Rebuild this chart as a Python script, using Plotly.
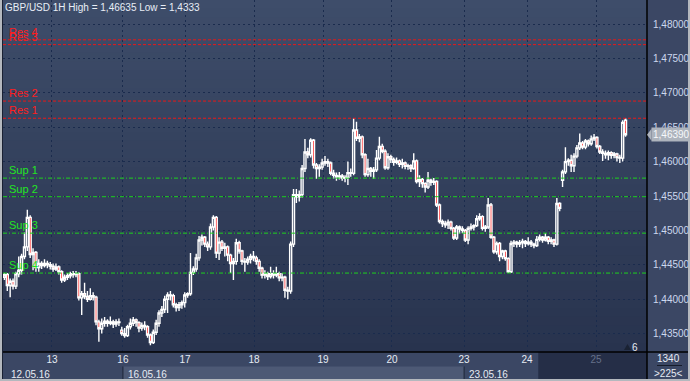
import plotly.graph_objects as go

# ---------------- data (GBP/USD, 1H bars) ----------------
open_ = [
    1.4432, 1.4436, 1.4420, 1.4426, 1.4419, 1.4437, 1.4442, 1.4462, 1.4476, 1.4519,
    1.4465, 1.4468, 1.4446, 1.4452, 1.4449, 1.4452, 1.4450, 1.4448, 1.4444, 1.4447,
    1.4440, 1.4428, 1.4432, 1.4434, 1.4437, 1.4436, 1.4437, 1.4402, 1.4408, 1.4404,
    1.4400, 1.4405, 1.4403, 1.4367, 1.4357, 1.4365, 1.4368, 1.4365, 1.4367, 1.4364,
    1.4367, 1.4355, 1.4350, 1.4347, 1.4360, 1.4365, 1.4370, 1.4366, 1.4358, 1.4362,
    1.4360, 1.4348, 1.4337, 1.4352, 1.4365, 1.4380, 1.4385, 1.4400, 1.4406, 1.4405,
    1.4392, 1.4388, 1.4392, 1.4395, 1.4406, 1.4408, 1.4439, 1.4444, 1.4460, 1.4486,
    1.4490, 1.4480, 1.4476, 1.4505, 1.4519, 1.4467, 1.4483, 1.4474, 1.4476, 1.4464,
    1.4452, 1.4455, 1.4482, 1.4470, 1.4455, 1.4454, 1.4458, 1.4462, 1.4460, 1.4455,
    1.4445, 1.4435, 1.4437, 1.4433, 1.4437, 1.4435, 1.4437, 1.4431, 1.4432, 1.4413,
    1.4412, 1.4480, 1.4552, 1.4549, 1.4552, 1.4590, 1.4614, 1.4610, 1.4631, 1.4595,
    1.4590, 1.4592, 1.4598, 1.4600, 1.4598, 1.4583, 1.4580, 1.4578, 1.4579, 1.4576,
    1.4577, 1.4584, 1.4583, 1.4646, 1.4634, 1.4636, 1.4610, 1.4581, 1.4590, 1.4586,
    1.4588, 1.4605, 1.4622, 1.4615, 1.4591, 1.4607, 1.4603, 1.4599, 1.4601, 1.4596,
    1.4598, 1.4593, 1.4594, 1.4590, 1.4601, 1.4571, 1.4574, 1.4568, 1.4563, 1.4573,
    1.4570, 1.4571, 1.4537, 1.4513, 1.4510, 1.4508, 1.4512, 1.4503, 1.4489, 1.4505,
    1.4502, 1.4500, 1.4486, 1.4503, 1.4505, 1.4507, 1.4517, 1.4520, 1.4503, 1.4505,
    1.4537, 1.4490, 1.4469, 1.4481, 1.4462, 1.4470, 1.4459, 1.4440, 1.4481, 1.4483,
    1.4480, 1.4482, 1.4484, 1.4481, 1.4483, 1.4480, 1.4478, 1.4487, 1.4490, 1.4486,
    1.4490, 1.4484, 1.4486, 1.4480, 1.4539, 1.4573, 1.4585, 1.4600, 1.4602, 1.4594,
    1.4608, 1.4620, 1.4627, 1.4621, 1.4630, 1.4626, 1.4633, 1.4635, 1.4622, 1.4614,
    1.4612, 1.4610, 1.4613, 1.4609, 1.4611, 1.4606, 1.4605, 1.4660,
]
high_ = [
    1.4438, 1.4438, 1.4430, 1.4430, 1.4440, 1.4462, 1.4466, 1.4497, 1.4530, 1.4522,
    1.4474, 1.4470, 1.4458, 1.4455, 1.4458, 1.4456, 1.4454, 1.4452, 1.4452, 1.4449,
    1.4442, 1.4436, 1.4438, 1.4440, 1.4441, 1.4441, 1.4439, 1.4412, 1.4424, 1.4412,
    1.4416, 1.4410, 1.4405, 1.4370, 1.4372, 1.4374, 1.4371, 1.4375, 1.4370, 1.4371,
    1.4372, 1.4360, 1.4358, 1.4363, 1.4372, 1.4374, 1.4372, 1.4368, 1.4366, 1.4368,
    1.4362, 1.4350, 1.4356, 1.4370, 1.4384, 1.4390, 1.4405, 1.4410, 1.4412, 1.4408,
    1.4395, 1.4396, 1.4398, 1.4410, 1.4410, 1.4467, 1.4448, 1.4466, 1.4492, 1.4494,
    1.4492, 1.4484, 1.4510, 1.4522, 1.4521, 1.4490, 1.4486, 1.4482, 1.4478, 1.4466,
    1.4460, 1.4488, 1.4485, 1.4472, 1.4460, 1.4462, 1.4466, 1.4470, 1.4463, 1.4458,
    1.4447, 1.4442, 1.4440, 1.4447, 1.4442, 1.4447, 1.4440, 1.4438, 1.4434, 1.4418,
    1.4484, 1.4560, 1.4560, 1.4558, 1.4595, 1.4633, 1.4620, 1.4634, 1.4633, 1.4598,
    1.4596, 1.4604, 1.4608, 1.4604, 1.4600, 1.4588, 1.4584, 1.4585, 1.4582, 1.4580,
    1.4600, 1.4590, 1.4663, 1.4658, 1.4640, 1.4638, 1.4612, 1.4604, 1.4592, 1.4592,
    1.4617, 1.4636, 1.4626, 1.4618, 1.4612, 1.4610, 1.4606, 1.4606, 1.4603, 1.4604,
    1.4600, 1.4597, 1.4596, 1.4612, 1.4603, 1.4580, 1.4576, 1.4570, 1.4585, 1.4575,
    1.4576, 1.4573, 1.4539, 1.4516, 1.4514, 1.4516, 1.4514, 1.4505, 1.4508, 1.4507,
    1.4506, 1.4502, 1.4506, 1.4510, 1.4509, 1.4522, 1.4525, 1.4522, 1.4508, 1.4547,
    1.4540, 1.4492, 1.4484, 1.4483, 1.4472, 1.4472, 1.4461, 1.4485, 1.4486, 1.4485,
    1.4486, 1.4488, 1.4486, 1.4490, 1.4486, 1.4482, 1.4492, 1.4494, 1.4492, 1.4496,
    1.4492, 1.4490, 1.4488, 1.4547, 1.4541, 1.4588, 1.4621, 1.4605, 1.4610, 1.4612,
    1.4624, 1.4641, 1.4630, 1.4633, 1.4632, 1.4638, 1.4640, 1.4637, 1.4624, 1.4618,
    1.4616, 1.4616, 1.4615, 1.4614, 1.4613, 1.4610, 1.4660, 1.46635,
]
low_ = [
    1.4428, 1.4412, 1.4403, 1.4414, 1.4415, 1.4432, 1.4436, 1.4458, 1.4470, 1.4460,
    1.4442, 1.4440, 1.4440, 1.4444, 1.4446, 1.4445, 1.4443, 1.4440, 1.4441, 1.4436,
    1.4424, 1.4425, 1.4428, 1.4430, 1.4431, 1.4432, 1.4398, 1.4377, 1.4400, 1.4396,
    1.4398, 1.4398, 1.4362, 1.4338, 1.4350, 1.4360, 1.4360, 1.4362, 1.4358, 1.4360,
    1.4361, 1.4347, 1.4344, 1.4345, 1.4356, 1.4361, 1.4360, 1.4352, 1.4354, 1.4355,
    1.4344, 1.4333, 1.4335, 1.4348, 1.4360, 1.4374, 1.4380, 1.4380, 1.4398, 1.4388,
    1.4382, 1.4383, 1.4386, 1.4388, 1.4402, 1.4405, 1.4435, 1.4440, 1.4456, 1.4478,
    1.4476, 1.4470, 1.4472, 1.4500, 1.4460, 1.4457, 1.4470, 1.4462, 1.4455, 1.4438,
    1.4428, 1.4450, 1.4466, 1.4450, 1.4440, 1.4450, 1.4452, 1.4455, 1.4450, 1.4440,
    1.4430, 1.4430, 1.4428, 1.4430, 1.4430, 1.4432, 1.4426, 1.4426, 1.4402, 1.4400,
    1.4408, 1.4476, 1.4540, 1.4542, 1.4548, 1.4585, 1.4605, 1.4606, 1.4590, 1.4575,
    1.4578, 1.4588, 1.4594, 1.4592, 1.4580, 1.4575, 1.4572, 1.4574, 1.4572, 1.4570,
    1.4566, 1.4578, 1.4580, 1.4630, 1.4628, 1.4605, 1.4578, 1.4578, 1.4578, 1.4575,
    1.4585, 1.4602, 1.4612, 1.4588, 1.4588, 1.4598, 1.4594, 1.4596, 1.4592, 1.4590,
    1.4589, 1.4588, 1.4585, 1.4588, 1.4568, 1.4563, 1.4562, 1.4555, 1.4560, 1.4565,
    1.4566, 1.4534, 1.4510, 1.4505, 1.4504, 1.4502, 1.4500, 1.4486, 1.4486, 1.4495,
    1.4496, 1.4483, 1.4480, 1.4500, 1.4500, 1.4505, 1.4514, 1.4500, 1.4498, 1.4502,
    1.4488, 1.4466, 1.4465, 1.4455, 1.4458, 1.4456, 1.4438, 1.4438, 1.4476, 1.4475,
    1.4476, 1.4474, 1.4476, 1.4478, 1.4476, 1.4474, 1.4476, 1.4484, 1.4482, 1.4484,
    1.4480, 1.4480, 1.4476, 1.4478, 1.4528, 1.4563, 1.4582, 1.4594, 1.4585, 1.4585,
    1.4605, 1.4617, 1.4618, 1.4618, 1.4622, 1.4623, 1.4630, 1.4619, 1.4611, 1.4601,
    1.4604, 1.4602, 1.4604, 1.4605, 1.4600, 1.4598, 1.4600, 1.4636,
]
close_ = [
    1.4436, 1.4420, 1.4426, 1.4419, 1.4437, 1.4442, 1.4462, 1.4476, 1.4519, 1.4465,
    1.4468, 1.4446, 1.4452, 1.4449, 1.4452, 1.4450, 1.4448, 1.4444, 1.4447, 1.4440,
    1.4428, 1.4432, 1.4434, 1.4437, 1.4436, 1.4437, 1.4402, 1.4408, 1.4404, 1.4400,
    1.4405, 1.4403, 1.4367, 1.4357, 1.4365, 1.4368, 1.4365, 1.4367, 1.4364, 1.4367,
    1.4366, 1.4350, 1.4347, 1.4360, 1.4365, 1.4370, 1.4366, 1.4358, 1.4362, 1.4360,
    1.4348, 1.4337, 1.4352, 1.4365, 1.4380, 1.4385, 1.4400, 1.4406, 1.4405, 1.4392,
    1.4388, 1.4392, 1.4395, 1.4406, 1.4408, 1.4439, 1.4444, 1.4460, 1.4486, 1.4490,
    1.4480, 1.4476, 1.4505, 1.4519, 1.4467, 1.4483, 1.4474, 1.4476, 1.4464, 1.4452,
    1.4455, 1.4482, 1.4470, 1.4455, 1.4454, 1.4458, 1.4462, 1.4460, 1.4455, 1.4445,
    1.4435, 1.4437, 1.4433, 1.4437, 1.4435, 1.4437, 1.4431, 1.4432, 1.4413, 1.4412,
    1.4480, 1.4552, 1.4549, 1.4552, 1.4590, 1.4614, 1.4610, 1.4631, 1.4595, 1.4590,
    1.4592, 1.4598, 1.4600, 1.4598, 1.4583, 1.4580, 1.4578, 1.4579, 1.4576, 1.4577,
    1.4584, 1.4583, 1.4646, 1.4634, 1.4636, 1.4610, 1.4581, 1.4590, 1.4586, 1.4588,
    1.4605, 1.4622, 1.4615, 1.4591, 1.4607, 1.4603, 1.4599, 1.4601, 1.4596, 1.4598,
    1.4593, 1.4594, 1.4590, 1.4601, 1.4571, 1.4574, 1.4568, 1.4563, 1.4573, 1.4570,
    1.4571, 1.4537, 1.4513, 1.4510, 1.4508, 1.4512, 1.4503, 1.4489, 1.4505, 1.4502,
    1.4500, 1.4486, 1.4503, 1.4505, 1.4507, 1.4517, 1.4520, 1.4503, 1.4505, 1.4537,
    1.4490, 1.4469, 1.4481, 1.4462, 1.4470, 1.4459, 1.4440, 1.4481, 1.4483, 1.4480,
    1.4482, 1.4484, 1.4481, 1.4483, 1.4480, 1.4478, 1.4487, 1.4490, 1.4486, 1.4490,
    1.4484, 1.4486, 1.4480, 1.4539, 1.4532, 1.4585, 1.4600, 1.4602, 1.4594, 1.4608,
    1.4620, 1.4627, 1.4621, 1.4630, 1.4626, 1.4633, 1.4635, 1.4622, 1.4614, 1.4612,
    1.4610, 1.4613, 1.4609, 1.4611, 1.4606, 1.4605, 1.4657, 1.4639,
]
bar_index = list(range(len(close_)))

day_ticks = [16.6, 41.4, 63.1, 87.2, 111.3, 135.4, 160.6, 182.6, 206.7]
day_labels = ["13", "16", "17", "18", "19", "20", "23", "24", "25"]
week_label_pos = [0.5, 41.4, 160.6]
week_labels = ["12.05.16", "16.05.16", "23.05.16"]
week_band = [41.4, 160.6]
session_start = 186.5

price_ticks = [1.435, 1.440, 1.445, 1.450, 1.455, 1.460, 1.465, 1.470, 1.475, 1.480]

pivot_names = ["Res 4", "Res 3", "Res 2", "Res 1", "Sup 1", "Sup 2", "Sup 3", "Sup 4"]
pivot_levels = [1.4777, 1.4770, 1.4688, 1.4663, 1.4576, 1.4549, 1.4496, 1.4438]

bars_visible = 225
counter_top = "1340"
counter_bottom = ">225<"
bars_marker = "6"
symbol_title = "GBP/USD 1H"

# ---------------- layout geometry ----------------
W, H = 690, 381
ML, MR, MT, MB = 3, 43, 0, 29
PW, PH = W - ML - MR, H - MT - MB
Y_MIN, Y_MAX = 1.432326, 1.483488

def px(p):  # pixel x -> paper x
    return (p - ML) / PW

def py(p):  # pixel y -> paper y
    return (MT + PH - p) / PH

def fmt(v, nd=5):
    s = f"{v:.{nd}f}".rstrip("0")
    return s.replace(".", ",")

FONT = "Liberation Sans, Arial, sans-serif"

fig = go.Figure()
fig.add_trace(go.Candlestick(
    x=bar_index, open=open_, high=high_, low=low_, close=close_,
    increasing=dict(line=dict(color="#ffffff", width=1.4), fillcolor="rgba(0,0,0,0)"),
    decreasing=dict(line=dict(color="#ffffff", width=1.4), fillcolor="#ff0000"),
    whiskerwidth=0, hoverinfo="skip", showlegend=False,
))

shapes = []
# vertical gradient of the plot background
N = 40
top_c, bot_c = (62, 77, 106), (40, 51, 78)
for k in range(N):
    t = (k + 0.5) / N
    c = tuple(int(round(bot_c[j] + (top_c[j] - bot_c[j]) * t)) for j in range(3))
    shapes.append(dict(type="rect", xref="paper", yref="paper", x0=0, x1=1,
                       y0=k / N, y1=(k + 1) / N + 0.002, fillcolor=f"rgb{c}",
                       line=dict(width=0), layer="below"))

# bottom axis bands
shapes.append(dict(type="rect", xref="x", yref="paper", x0=week_band[0], x1=week_band[1],
                   y0=py(381), y1=py(366.5), fillcolor="#4d5975", line=dict(width=0), layer="below"))
shapes.append(dict(type="rect", xref="x", yref="paper", x0=session_start, x1=bars_visible - 0.5,
                   y0=py(381), y1=py(352), fillcolor="#252e47", line=dict(width=0), layer="below"))
for xb in week_band:
    shapes.append(dict(type="line", xref="x", yref="paper", x0=xb, x1=xb,
                       y0=py(381), y1=py(366.5), line=dict(color="#1d2538", width=1)))

# pivot lines
for name, lvl in zip(pivot_names, pivot_levels):
    is_res = name.startswith("Res")
    shapes.append(dict(type="line", xref="paper", yref="y", x0=0, x1=1, y0=lvl, y1=lvl,
                       line=dict(color="#e81818" if is_res else "#1ed21e", width=1,
                                 dash="3px,2px" if is_res else "4px,2px,1px,2px"),
                       layer="above"))

# separators and frame
shapes.append(dict(type="line", xref="paper", yref="paper", x0=px(0), x1=px(W),
                   y0=0, y1=0, line=dict(color="#000000", width=1.5)))
shapes.append(dict(type="line", xref="paper", yref="paper", x0=1, x1=1,
                   y0=py(H), y1=py(0), line=dict(color="#000000", width=1.5)))
shapes.append(dict(type="line", xref="paper", yref="paper", x0=px(2.5), x1=px(2.5),
                   y0=py(H), y1=py(0), line=dict(color="#1a2133", width=1)))
for x0, x1, y0, y1 in [(1, 1, 0, H), (W - 1, W - 1, 0, H), (0, W, H - 1, H - 1)]:
    shapes.append(dict(type="line", xref="paper", yref="paper", x0=px(x0), x1=px(x1),
                       y0=py(y0), y1=py(y1), line=dict(color="#b4b8be", width=2)))

# current price arrow
last = close_[-1]
hh = 6 / (PH / (Y_MAX - Y_MIN))
shapes.append(dict(type="path", xref="paper", yref="y",
                   path=f"M {px(647)},{last} L {px(651.5)},{last + hh} L {px(651.5)},{last - hh} Z",
                   fillcolor="#aeb4bd", line=dict(width=0)))
# small marker triangle near bottom right
shapes.append(dict(type="path", xref="paper", yref="paper",
                   path=f"M {px(624)},{py(350)} L {px(631)},{py(350)} L {px(627.5)},{py(344)} Z",
                   fillcolor="#1a2233", line=dict(width=0)))
# counter separator line
shapes.append(dict(type="line", xref="paper", yref="paper", x0=px(657), x1=px(682),
                   y0=py(365.5), y1=py(365.5), line=dict(color="#161c2a", width=1)))

annotations = []
annotations.append(dict(xref="paper", yref="paper", x=0, y=1, xanchor="left", yanchor="top",
                        xshift=0, yshift=0, showarrow=False,
                        text=f"{symbol_title} High = {fmt(max(high_))} Low = {fmt(min(low_))}",
                        font=dict(family=FONT, size=10, color="#e8edf6")))
for name, lvl in zip(pivot_names, pivot_levels):
    is_res = name.startswith("Res")
    annotations.append(dict(xref="paper", yref="y", x=0, y=lvl, xanchor="left", yanchor="bottom",
                            xshift=4, yshift=0, showarrow=False, text=name,
                            font=dict(family=FONT, size=11, color="#ff1e1e" if is_res else "#22e622")))
for pos, lab in zip(week_label_pos, week_labels):
    annotations.append(dict(xref="x", yref="paper", x=pos, y=py(374), xanchor="left",
                            yanchor="middle", xshift=3, showarrow=False, text=lab,
                            font=dict(family=FONT, size=10, color="#e6ebf3")))
annotations.append(dict(xref="paper", yref="y", x=1, y=last, xanchor="left", yanchor="middle",
                        xshift=4, showarrow=False, text=f"{last:.5f}".replace(".", ","),
                        bgcolor="#aeb4bd", borderpad=1,
                        font=dict(family=FONT, size=10, color="#f6f8fb")))
annotations.append(dict(xref="paper", yref="paper", x=px(635), y=py(347), xanchor="center",
                        yanchor="middle", showarrow=False, text=bars_marker,
                        font=dict(family=FONT, size=10, color="#e6ebf3")))
annotations.append(dict(xref="paper", yref="paper", x=px(669), y=py(358), xanchor="center",
                        yanchor="middle", showarrow=False, text=counter_top,
                        font=dict(family=FONT, size=10, color="#e6ebf3")))
annotations.append(dict(xref="paper", yref="paper", x=px(669), y=py(373), xanchor="center",
                        yanchor="middle", showarrow=False, text=counter_bottom,
                        font=dict(family=FONT, size=10, color="#e6ebf3")))

tick_text = [lab if t < session_start else f"<span style='color:#66718a'>{lab}</span>"
             for t, lab in zip(day_ticks, day_labels)]

fig.update_layout(
    width=W, height=H,
    margin=dict(l=ML, r=MR, t=MT, b=MB, pad=0),
    paper_bgcolor="#3b4764",
    plot_bgcolor="#33405c",
    separators=", ",
    showlegend=False,
    shapes=shapes,
    annotations=annotations,
    hovermode=False,
    boxgap=0.0,
    xaxis=dict(range=[-0.5, bars_visible - 0.5], tickvals=day_ticks, ticktext=tick_text,
               showgrid=True, gridcolor="#1a2b4d", gridwidth=1, griddash="2px,3px",
               zeroline=False, showline=False, ticks="", ticklen=0,
               tickfont=dict(family=FONT, size=10, color="#e6ebf3"),
               rangeslider=dict(visible=False), fixedrange=True),
    yaxis=dict(range=[Y_MIN, Y_MAX], side="right", tickvals=price_ticks, tickformat=".5f",
               showgrid=True, gridcolor="#1a2b4d", gridwidth=1, griddash="2px,3px",
               zeroline=False, showline=False, ticks="outside", ticklen=3,
               tickcolor="rgba(0,0,0,0)",
               tickfont=dict(family=FONT, size=10, color="#cdd8ee"), fixedrange=True),
)

fig.write_html("out.html", config={"displayModeBar": False},
               post_script="document.body.style.margin='0';document.body.style.overflow='hidden';")
